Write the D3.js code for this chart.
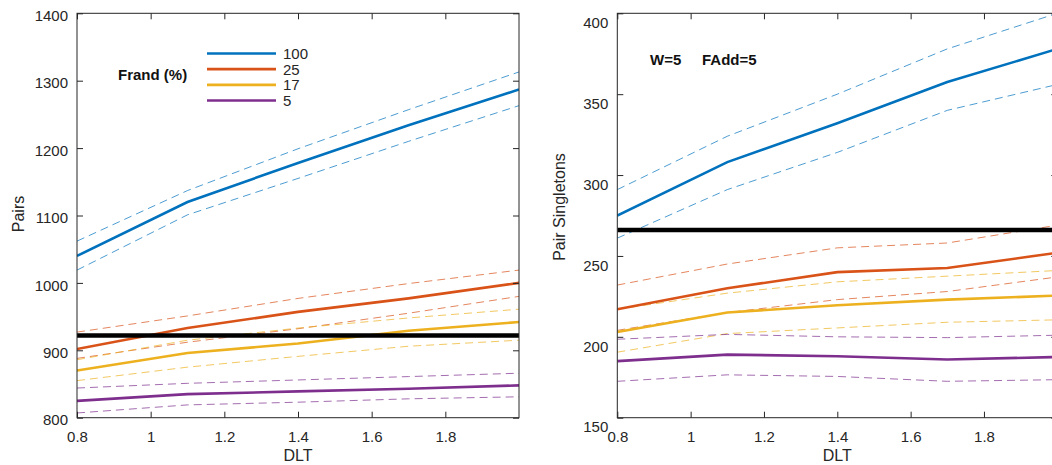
<!DOCTYPE html>
<html><head><meta charset="utf-8">
<script src="https://cdn.jsdelivr.net/npm/d3@7"></script>
<style>
html,body{margin:0;padding:0;background:#fff;overflow:hidden;}
svg{display:block;font-family:"Liberation Sans",Arial,sans-serif;}
</style></head>
<body>
<svg id="chart" width="1052" height="465"></svg>
<script>
// ---------- data ----------
const dlt = [0.8, 1.1, 1.4, 1.7, 2.0];
const frandLabels = ["100", "25", "17", "5"];
const xTickValues = [0.8, 1.0, 1.2, 1.4, 1.6, 1.8];
const pairsTicks = [800, 900, 1000, 1100, 1200, 1300, 1400];
const singletonTicks = [150, 200, 250, 300, 350, 400];

// Left panel: Pairs (mean, upper, lower) for Frand = 100, 25, 17, 5
const pairs100   = [1040, 1120, 1178, 1234, 1287];
const pairs100Hi = [1062, 1137, 1199, 1257, 1313];
const pairs100Lo = [1019, 1101, 1155, 1210, 1263];
const pairs25    = [902, 933, 957, 977, 1000];
const pairs25Hi  = [927, 951, 977, 999, 1019];
const pairs25Lo  = [888, 912, 932, 955, 980];
const pairs17    = [870, 896, 910, 929, 942];
const pairs17Hi  = [886, 915, 933, 948, 961];
const pairs17Lo  = [855, 875, 891, 906, 915];
const pairs5     = [825, 835, 839, 843, 848];
const pairs5Hi   = [844, 851, 856, 861, 866];
const pairs5Lo   = [807, 819, 823, 828, 831];
const pairsRef   = 922;

// Right panel: Pair Singletons
const single100   = [275, 308, 332, 357.5, 378];
const single100Hi = [291, 324, 350, 378, 400];
const single100Lo = [261, 291, 314, 340, 356];
const single25    = [217, 230, 240, 242.5, 252];
const single25Hi  = [232, 245, 255, 258, 269];
const single25Lo  = [204, 215, 223, 228, 237];
const single17    = [203, 215, 219.5, 223, 225.5];
const single17Hi  = [217, 227, 234, 237.5, 241];
const single17Lo  = [190.5, 202, 205.5, 209, 210.5];
const single5     = [185, 189, 188, 186, 187.5];
const single5Hi   = [198.5, 201.5, 200, 199.5, 201];
const single5Lo   = [172.5, 176.5, 175.5, 172.5, 173.5];
const singleRef   = 266;

// ---------- styles ----------
const colors = ["#0072BD", "#D95319", "#EDB120", "#7E2F8E"];
const axisColor = "#262626";
const FONT = 15;

const svg = d3.select("#chart");

function drawPanel(cfg) {
  const x = d3.scaleLinear().domain([0.8, 2.0]).range([cfg.x0, cfg.x1]);
  const y = d3.scaleLinear().domain(cfg.yDomain).range([cfg.y1, cfg.y0]);
  const g = svg.append("g");

  const clipId = "clip" + cfg.id;
  svg.append("clipPath").attr("id", clipId).append("rect")
    .attr("x", cfg.x0).attr("y", cfg.y0)
    .attr("width", cfg.x1 - cfg.x0).attr("height", cfg.y1 - cfg.y0);

  const plot = g.append("g").attr("clip-path", `url(#${clipId})`);
  const line = d3.line().x((d, i) => x(dlt[i])).y(d => y(d));

  cfg.series.forEach((s, k) => {
    [s.hi, s.lo].forEach(arr => {
      plot.append("path").datum(arr).attr("d", line)
        .attr("fill", "none").attr("stroke", colors[k])
        .attr("stroke-width", 1).attr("stroke-opacity", 0.7)
        .attr("stroke-dasharray", "8,5");
    });
  });
  cfg.series.forEach((s, k) => {
    plot.append("path").datum(s.mean).attr("d", line)
      .attr("fill", "none").attr("stroke", colors[k])
      .attr("stroke-width", 2.6);
  });
  // reference line
  plot.append("line")
    .attr("x1", cfg.x0).attr("x2", cfg.x1)
    .attr("y1", y(cfg.ref)).attr("y2", y(cfg.ref))
    .attr("stroke", "#000").attr("stroke-width", 4.5);

  // axes
  const tl = 6;
  const xb = g.append("g").attr("transform", `translate(0,${cfg.y1})`)
    .call(d3.axisBottom(x).tickValues(xTickValues).tickSize(-tl).tickFormat(d3.format("~g")));
  xb.selectAll("text").attr("y", 0).attr("dy", 0).attr("transform", "translate(0,24)")
    .style("font-size", FONT + "px").attr("fill", axisColor);
  const xt = g.append("g").attr("transform", `translate(0,${cfg.y0})`)
    .call(d3.axisTop(x).tickValues(xTickValues).tickSize(-tl).tickFormat(""));
  const yl = g.append("g").attr("transform", `translate(${cfg.x0},0)`)
    .call(d3.axisLeft(y).tickValues(cfg.yTicks).tickSize(-tl).tickFormat(d3.format("d")));
  yl.selectAll("text").attr("x", -9).attr("dy", "0.35em")
    .attr("transform", `translate(0,${cfg.labelShift})`)
    .style("font-size", FONT + "px").attr("fill", axisColor);
  const yr = g.append("g").attr("transform", `translate(${cfg.x1},0)`)
    .call(d3.axisRight(y).tickValues(cfg.yTicks).tickSize(-tl).tickFormat(""));
  [xb, xt, yl, yr].forEach(a => {
    a.selectAll(".tick line").attr("stroke", axisColor);
  });
  g.selectAll(".domain").remove();
  g.append("rect").attr("x", cfg.x0).attr("y", cfg.y0)
    .attr("width", cfg.x1 - cfg.x0).attr("height", cfg.y1 - cfg.y0)
    .attr("fill", "none").attr("stroke", axisColor).attr("stroke-width", 1);

  // axis titles
  g.append("text").attr("x", (cfg.x0 + cfg.x1) / 2).attr("y", 461)
    .attr("text-anchor", "middle").style("font-size", "16px").attr("fill", axisColor)
    .text("DLT");
  g.append("text")
    .attr("transform", `translate(${cfg.ylabelX},${cfg.ylabelY}) rotate(-90)`)
    .attr("text-anchor", "middle").attr("dy", "0.35em")
    .style("font-size", "16px").attr("fill", axisColor)
    .text(cfg.ylabel);
  return { x, y, g };
}

const left = drawPanel({
  id: "L", x0: 77, x1: 519, y0: 13.3, y1: 417.7,
  yDomain: [800, 1400], yTicks: pairsTicks, labelShift: 2,
  ref: pairsRef, ylabel: "Pairs", ylabelX: 18, ylabelY: 214,
  series: [
    { mean: pairs100, hi: pairs100Hi, lo: pairs100Lo },
    { mean: pairs25, hi: pairs25Hi, lo: pairs25Lo },
    { mean: pairs17, hi: pairs17Hi, lo: pairs17Lo },
    { mean: pairs5, hi: pairs5Hi, lo: pairs5Lo }
  ]
});

const right = drawPanel({
  id: "R", x0: 617.3, x1: 1057.3, y0: 13.3, y1: 417.7,
  yDomain: [150, 400], yTicks: singletonTicks, labelShift: 9,
  ref: singleRef, ylabel: "Pair Singletons", ylabelX: 559, ylabelY: 207,
  series: [
    { mean: single100, hi: single100Hi, lo: single100Lo },
    { mean: single25, hi: single25Hi, lo: single25Lo },
    { mean: single17, hi: single17Hi, lo: single17Lo },
    { mean: single5, hi: single5Hi, lo: single5Lo }
  ]
});

// legend (left panel)
const legY = d3.scalePoint().domain(frandLabels).range([53.5, 100.5]);
const leg = svg.append("g");
frandLabels.forEach((lab, k) => {
  leg.append("line").attr("x1", 207).attr("x2", 276)
    .attr("y1", legY(lab)).attr("y2", legY(lab))
    .attr("stroke", colors[k]).attr("stroke-width", 2.6);
  leg.append("text").attr("x", 283).attr("y", legY(lab)).attr("dy", "0.36em")
    .style("font-size", FONT + "px").attr("fill", axisColor).text(lab);
});
leg.append("text").attr("x", 118).attr("y", 75).attr("dy", "0.35em")
  .style("font-size", FONT + "px").style("font-weight", "bold").attr("fill", "#111")
  .text("Frand (%)");

// annotation (right panel)
svg.append("text").attr("x", 650).attr("y", 60).attr("dy", "0.35em")
  .style("font-size", FONT + "px").style("font-weight", "bold").attr("fill", "#111")
  .text("W=5");
svg.append("text").attr("x", 702).attr("y", 60).attr("dy", "0.35em")
  .style("font-size", FONT + "px").style("font-weight", "bold").attr("fill", "#111")
  .text("FAdd=5");
</script>
</body></html>
